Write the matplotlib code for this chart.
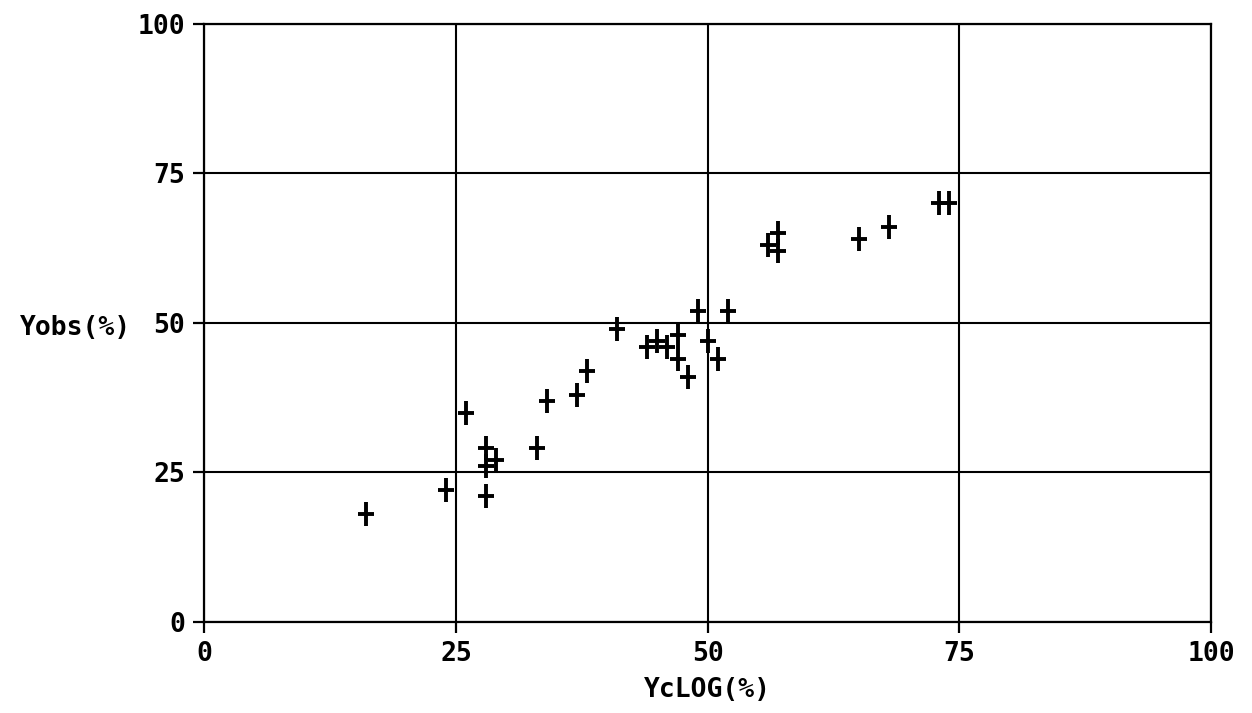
import matplotlib
matplotlib.use("Agg")
import matplotlib.pyplot as plt
from matplotlib.path import Path

# Calculated vs observed yield (%)
yc_log = [16, 24, 26, 28, 28, 28, 29, 33, 34, 37, 38, 41, 44, 45, 46, 47, 47, 48,
          49, 50, 51, 52, 56, 57, 57, 65, 68, 73, 74]
y_obs = [18, 22, 35, 29, 21, 26, 27, 29, 37, 38, 42, 49, 46, 47, 46, 48, 44, 41,
         52, 47, 44, 52, 63, 65, 62, 64, 66, 70, 70]

ticks = [0, 25, 50, 75, 100]
tick_labels = ["0", "25", "50", "75", "100"]

FONT = "DejaVu Sans Mono"

fig = plt.figure(figsize=(12.52, 7.13), dpi=100)
ax = fig.add_axes([0.1633, 0.128, 0.804, 0.8383])

# narrow plus sign, taller than wide
plus = Path([(-0.68, 0), (0.68, 0), (0, -1), (0, 1)],
            [Path.MOVETO, Path.LINETO, Path.MOVETO, Path.LINETO])

ax.plot(yc_log, y_obs, linestyle="none", marker=plus, markersize=17,
        markeredgewidth=2.8, color="black", zorder=3)

ax.set_xlim(0, 100)
ax.set_ylim(0, 100)
ax.set_xticks(ticks)
ax.set_yticks(ticks)
ax.set_xticklabels(tick_labels, family=FONT, fontweight="bold", fontsize=19)
ax.set_yticklabels(tick_labels, family=FONT, fontweight="bold", fontsize=19)
ax.tick_params(direction="out", length=8, width=1.6, color="black")
ax.tick_params(axis="x", pad=6)
ax.tick_params(axis="y", pad=6)

ax.grid(True, color="black", linewidth=1.5)
ax.set_axisbelow(True)
for s in ax.spines.values():
    s.set_linewidth(1.6)
    s.set_color("black")

ax.set_xlabel("YcLOG(%)", family=FONT, fontweight="bold", fontsize=19, labelpad=7)
fig.text(75 / 1252, 1 - 328 / 713, "Yobs(%)", family=FONT, fontweight="bold",
         fontsize=19, ha="center", va="center")

fig.savefig("out.png", dpi=100, facecolor="white")
